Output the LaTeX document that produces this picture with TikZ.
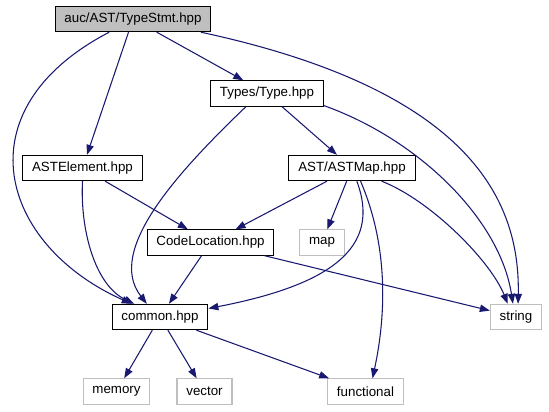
\documentclass[tikz,border=0pt]{standalone}
\usepackage{fontspec}
\setmainfont{Liberation Sans}
\usetikzlibrary{arrows.meta}
\definecolor{edgeblue}{HTML}{191970}
\definecolor{sysgray}{HTML}{BFBFBF}

\begin{document}
\begin{tikzpicture}[x=0.75pt, y=-0.75pt, >={Triangle[length=7.5pt, width=5.5pt]},
    incfile/.style={draw=black, line width=0.8pt, fill=white, minimum height=19pt,
      inner xsep=7pt, inner ysep=0pt, font=\fontsize{10}{12}\selectfont},
    sysinc/.style={incfile, draw=sysgray},
    dep/.style={->, draw=edgeblue, line width=0.8pt}]
    \useasboundingbox (0,0) rectangle (549,411);

    % Project headers
    \node[incfile, fill=sysgray] (typestmt) at (133,19) {auc/AST/TypeStmt.hpp};
    \node[incfile] (type) at (267,93.5) {Types/Type.hpp};
    \node[incfile] (astelem) at (82.5,168) {ASTElement.hpp};
    \node[incfile] (astmap) at (352,168) {AST/ASTMap.hpp};
    \node[incfile] (codeloc) at (210.5,242.5) {CodeLocation.hpp};
    \node[incfile] (common) at (160,317) {common.hpp};

    % System headers
    \node[sysinc] (map) at (322,242.5) {map};
    \node[sysinc] (string) at (516,317) {string};
    \node[sysinc] (memory) at (116.5,391.5) {memory};
    \node[sysinc] (vector) at (204.5,391.5) {vector};
    \node[sysinc] (functional) at (365.5,391.5) {functional};

    % Straight includes
    \draw[dep] (typestmt) -- (type);
    \draw[dep] (typestmt) -- (astelem);
    \draw[dep] (type) -- (astmap);
    \draw[dep] (astelem) -- (codeloc);
    \draw[dep] (astmap) -- (codeloc);
    \draw[dep] (astmap) -- (map);
    \draw[dep] (codeloc) -- (common);
    \draw[dep] (codeloc) -- (string);
    \draw[dep] (common) -- (memory);
    \draw[dep] (common) -- (vector);
    \draw[dep] (common) -- (functional);

    % Curved includes
    \draw[dep] (typestmt.209) .. controls (-40,110) and (0,245) .. (common.155);
    \draw[dep] (astelem.south) .. controls (80,230) and (95,285) .. (common.153);
    \draw[dep] (type.212) .. controls (180,170) and (105,250) .. (common.135);
    \draw[dep] (typestmt.-11) .. controls (470,90) and (520,200) .. (string.81);
    \draw[dep] (type.-12) .. controls (420,140) and (500,220) .. (string.103);
    \draw[dep] (astmap.-24) .. controls (430,200) and (490,260) .. (string.122);
    \draw[dep] (astmap.-70) .. controls (382,248) and (330,285) .. (common.10);
    \draw[dep] (astmap.-57) .. controls (390,250) and (385,320) .. (functional.62);
\end{tikzpicture}
\end{document}
